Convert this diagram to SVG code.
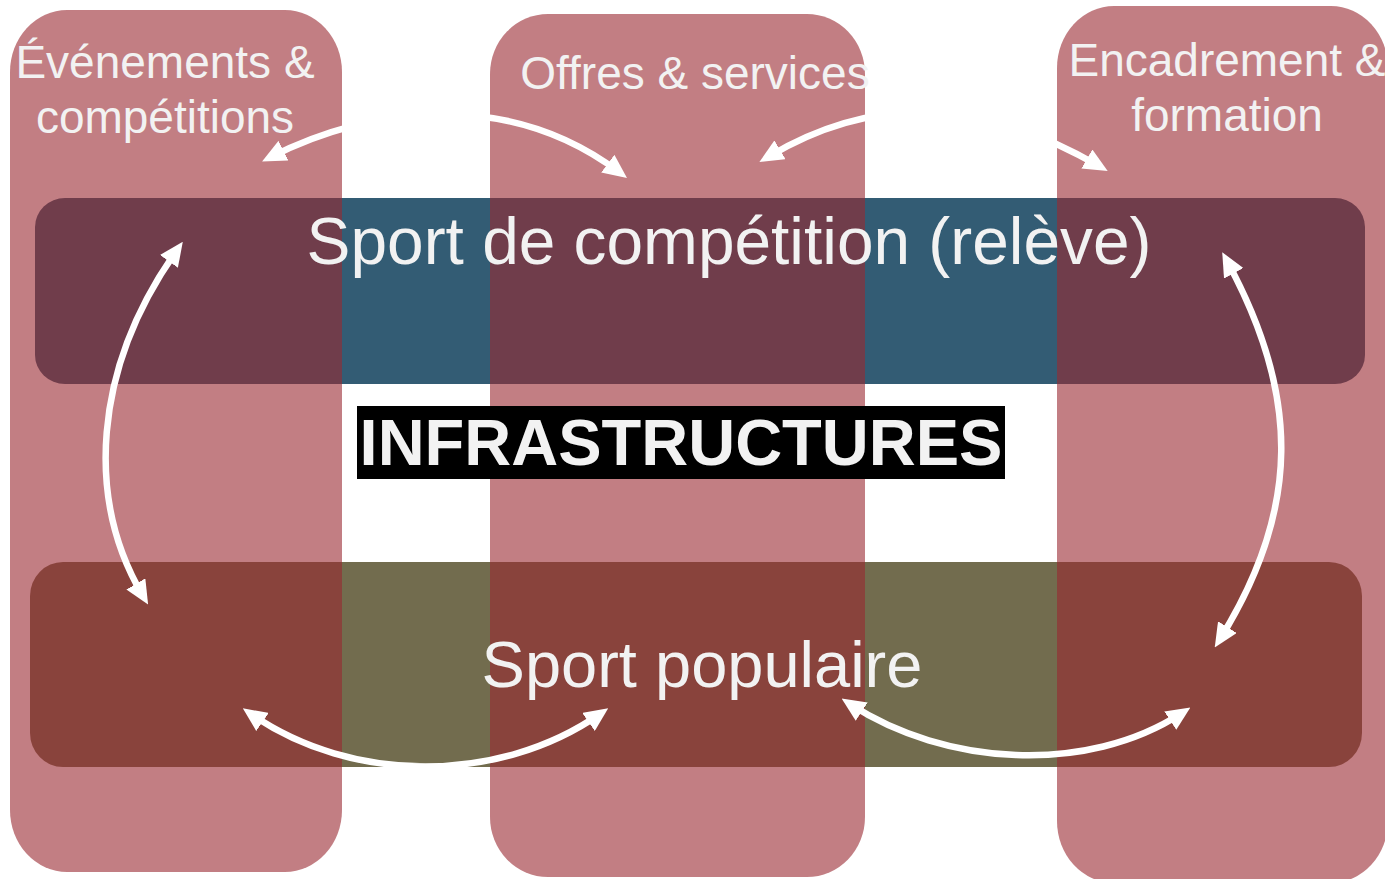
<svg xmlns="http://www.w3.org/2000/svg" width="1385" height="879" viewBox="0 0 1385 879">
<style>
.bar-top{fill:#335C74}
.bar-bot{fill:#726C4E}
.col{fill:rgb(153,40,48);fill-opacity:0.6}
.lbl{font-family:"Liberation Sans",Arial,sans-serif;fill:#F2F2F2;text-anchor:middle}
.col-lbl{font-size:46px}
.bar-lbl{font-size:65px}
.infra{font-family:"Liberation Sans",Arial,sans-serif;font-weight:bold;font-size:65px;fill:#F2F2F2;text-anchor:middle}
.arr{fill:none;stroke:#FFFFFF;stroke-width:6.5;marker-start:url(#ah);marker-end:url(#ah)}
</style>
<defs>
<marker id="ah" viewBox="0 0 24 22" refX="14" refY="11" markerWidth="24" markerHeight="22" markerUnits="userSpaceOnUse" orient="auto-start-reverse">
<path d="M0,0 L24,11 L0,22 z" fill="#FFFFFF"/>
</marker>
</defs>
<rect width="1385" height="879" fill="#FFFFFF"/>
<g id="bar-competition">
<rect class="bar-top" x="35" y="198" width="1330" height="186" rx="30" ry="29"/>
</g>
<g id="bar-populaire">
<rect class="bar-bot" x="30" y="562" width="1332" height="205" rx="33" ry="34"/>
</g>
<g id="col-evenements">
<rect class="col" x="10" y="10" width="332" height="862" rx="57" ry="62"/>
<text class="lbl col-lbl" x="165" y="78">Événements &amp;</text>
<text class="lbl col-lbl" x="165" y="133">compétitions</text>
</g>
<g id="col-offres">
<rect class="col" x="490" y="14" width="375" height="863" rx="58" ry="60"/>
<text class="lbl col-lbl" x="695" y="89">Offres &amp; services</text>
</g>
<g id="col-encadrement">
<rect class="col" x="1057" y="6" width="331" height="877" rx="57" ry="62"/>
<text class="lbl col-lbl" x="1227" y="76">Encadrement &amp;</text>
<text class="lbl col-lbl" x="1227" y="131">formation</text>
</g>
<g id="label-competition">
<text class="lbl bar-lbl" x="729" y="264" style="font-size:65.8px">Sport de compétition (relève)</text>
</g>
<g id="label-populaire">
<text class="lbl bar-lbl" x="702" y="687">Sport populaire</text>
</g>
<g id="infrastructures">
<rect x="357" y="406" width="648" height="73" fill="#000000"/>
<text class="infra" x="681" y="465">INFRASTRUCTURES</text>
</g>
<g id="connectors">
<path class="arr" d="M271,157 C369,107 507,88 619,172"/>
<path class="arr" d="M768,157 C879,91 986,101 1099,166"/>
<path class="arr" d="M177,250 C92,370 86,500 143,596"/>
<path class="arr" d="M1227,261 C1300,395 1301,509 1220,639"/>
<path class="arr" d="M251,714 C352,784 499,784 600,714"/>
<path class="arr" d="M850,704 C945,766 1087,775 1182,713"/>
</g>
</svg>
